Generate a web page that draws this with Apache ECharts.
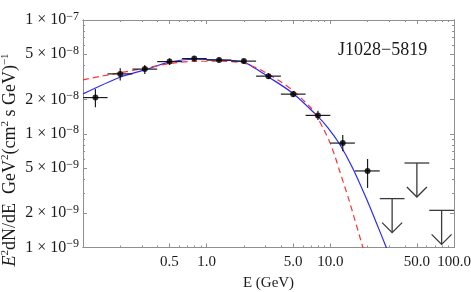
<!DOCTYPE html>
<html>
<head>
<meta charset="utf-8">
<script src="https://cdn.jsdelivr.net/npm/echarts@6/dist/echarts.min.js"></script>
<style>html,body{margin:0;padding:0;background:#fff}#c{width:471px;height:292px}</style>
</head>
<body>
<div id="c"></div>
<script>
// ---------------- data ----------------
const binEdges = [0.1, 0.158, 0.251, 0.398, 0.631, 1.0, 1.58, 2.51, 3.98, 6.31, 10.0, 15.8, 25.1, 39.8, 63.1, 100];
const energy = [0.126, 0.200, 0.316, 0.501, 0.794, 1.26, 2.00, 3.16, 5.01, 7.94, 12.6, 20.0];
const flux   = [2.08e-8, 3.36e-8, 3.70e-8, 4.31e-8, 4.58e-8, 4.44e-8, 4.35e-8, 3.21e-8, 2.23e-8, 1.45e-8, 8.28e-9, 4.71e-9];
const fluxLo = [1.71e-8, 2.94e-8, 3.36e-8, 4.03e-8, 4.35e-8, 4.22e-8, 4.13e-8, 3.03e-8, 2.10e-8, 1.32e-8, 7.0e-9, 3.34e-9];
const fluxHi = [2.47e-8, 3.77e-8, 4.03e-8, 4.60e-8, 4.81e-8, 4.67e-8, 4.57e-8, 3.41e-8, 2.37e-8, 1.59e-8, 9.75e-9, 6.0e-9];
const ulBinIndex = [12, 13, 14];
const ulEnergy = [31.6, 50.1, 79.4];
const ulFlux   = [2.69e-9, 5.53e-9, 2.12e-9];

const blueE = [0.100, 0.199, 0.316, 0.497, 0.790, 1.25, 1.96, 2.48, 3.12, 4.97, 7.76, 9.5, 11.8, 15.1, 19.4, 23.5, 28.4, 29.9];
const blueF = [2.24e-8, 3.14e-8, 3.64e-8, 4.26e-8, 4.52e-8, 4.46e-8, 4.28e-8, 3.75e-8, 3.19e-8, 2.27e-8, 1.45e-8, 1.14e-8, 8.2e-9, 5.03e-9, 2.75e-9, 1.66e-9, 9.94e-10, 8.5e-10];
const redE = [0.100, 0.137, 0.199, 0.316, 0.497, 0.790, 1.25, 1.96, 2.48, 3.12, 3.92, 4.97, 6.17, 6.90, 7.76, 8.70, 9.82, 10.8, 11.8, 14.2, 18.2, 19.2];
const redF = [2.98e-8, 3.19e-8, 3.43e-8, 3.77e-8, 4.13e-8, 4.33e-8, 4.34e-8, 4.20e-8, 3.83e-8, 3.36e-8, 2.89e-8, 2.41e-8, 1.93e-8, 1.71e-8, 1.42e-8, 1.13e-8, 8.59e-9, 6.54e-9, 4.83e-9, 2.58e-9, 1.03e-9, 8.5e-10];

const xMajor = [0.1, 0.5, 1, 5, 10, 50, 100];
const xLabels = [0.5, 1, 5, 10, 50, 100];
const xMinor = [0.2, 0.3, 0.4, 0.6, 0.7, 0.8, 0.9, 2, 3, 4, 6, 7, 8, 9, 20, 30, 40, 60, 70, 80, 90];
const yMajor = [1e-9, 2e-9, 5e-9, 1e-8, 2e-8, 5e-8, 1e-7];
const yMinor = [3e-9, 4e-9, 6e-9, 7e-9, 8e-9, 9e-9, 3e-8, 4e-8, 6e-8, 7e-8, 8e-8, 9e-8];
const titleText = 'J1028\u22125819';
const xName = 'E (GeV)';
const yName = '{i|E}{s|2}{n|dN/dE  GeV}{s|2}{n|(cm}{s|2}{n| s GeV)}{s|\u22121}';

// ---------------- chart ----------------
const L = Math.log10;
const FONT = '"Liberation Serif", "DejaVu Serif", serif';
const frame = '#8f8f8f';
const textCol = '#1a1a1a';

function xFmt(v) {
  let best = xLabels[0];
  xLabels.forEach(t => { if (Math.abs(L(t) - v) < Math.abs(L(best) - v)) best = t; });
  return best.toFixed(1);
}
function yFmt(v) {
  const e = Math.floor(v + 1e-6);
  const m = Math.round(Math.pow(10, v - e));
  return '{b|' + m + ' \u00d7 10}{s|\u2212' + Math.abs(e) + '}';
}

function mkX(pos, ticks, len, labels) {
  return {
    type: 'value', min: -1, max: 2, position: pos,
    axisLine: { show: true, onZero: false, lineStyle: { color: frame, width: 1 } },
    axisTick: { show: true, inside: true, length: len, customValues: ticks.map(L), lineStyle: { color: frame, width: 1 } },
    axisLabel: labels ? { show: true, customValues: xLabels.map(L), formatter: xFmt, margin: 7,
      fontFamily: FONT, fontSize: 15, color: textCol } : { show: false },
    splitLine: { show: false },
    name: labels ? xName : '', nameLocation: 'middle', nameGap: 28,
    nameTextStyle: { fontFamily: FONT, fontSize: 15, color: textCol }
  };
}
function mkY(pos, ticks, len, labels) {
  return {
    type: 'value', min: -9, max: -7, position: pos,
    axisLine: { show: true, onZero: false, lineStyle: { color: frame, width: 1 } },
    axisTick: { show: true, inside: true, length: len, customValues: ticks.map(L), lineStyle: { color: frame, width: 1 } },
    axisLabel: labels ? { show: true, customValues: yMajor.map(L), formatter: yFmt, margin: 4,
      color: textCol,
      rich: {
        b: { fontFamily: FONT, fontSize: 16, color: textCol, lineHeight: 19 },
        s: { fontFamily: FONT, fontSize: 12, color: textCol, verticalAlign: 'top', lineHeight: 12 }
      } } : { show: false },
    splitLine: { show: false }
  };
}

const pts = energy.map((e, i) => [L(e), L(flux[i]), L(binEdges[i]), L(binEdges[i + 1]), L(fluxLo[i]), L(fluxHi[i])]);
const uls = ulEnergy.map((e, i) => [L(e), L(ulFlux[i]), L(binEdges[ulBinIndex[i]]), L(binEdges[ulBinIndex[i] + 1])]);

const chart = echarts.init(document.getElementById('c'), null, { renderer: 'canvas' });
chart.setOption({
  animation: false,
  backgroundColor: '#fff',
  title: { text: titleText, left: 338, top: 41, padding: 0,
    textStyle: { fontFamily: FONT, fontSize: 18, fontWeight: 'normal', color: textCol } },
  graphic: [{
    type: 'text', x: 10, y: 160, rotation: Math.PI / 2,
    style: {
      text: yName, align: 'center', verticalAlign: 'middle',
      rich: {
        i: { fontFamily: FONT, fontSize: 18, fontStyle: 'italic', fill: textCol, lineHeight: 20 },
        n: { fontFamily: FONT, fontSize: 18, fill: textCol, lineHeight: 20 },
        s: { fontFamily: FONT, fontSize: 11, fill: textCol, verticalAlign: 'top', lineHeight: 12 }
      }
    }
  }],
  grid: { left: 83, right: 17, top: 20, bottom: 44.5, containLabel: false, outerBoundsMode: 'none' },
  xAxis: [mkX('bottom', xMajor, 4, true), mkX('bottom', xMinor, 2, false), mkX('top', xMajor, 4, false), mkX('top', xMinor, 2, false)],
  yAxis: [mkY('left', yMajor, 4, true), mkY('left', yMinor, 2, false), mkY('right', yMajor, 4, false), mkY('right', yMinor, 2, false)],
  series: [
    { type: 'line', data: blueE.map((e, i) => [L(e), L(blueF[i])]), smooth: 0.3, showSymbol: false,
      lineStyle: { color: '#2a2aff', width: 1.2 }, clip: true, z: 2 },
    { type: 'line', data: redE.map((e, i) => [L(e), L(redF[i])]), smooth: 0.3, showSymbol: false,
      lineStyle: { color: '#ff3333', width: 1.2, type: [6, 4] }, clip: true, z: 2 },
    { type: 'custom', data: pts, encode: { x: 0, y: 1 }, z: 3,
      renderItem: function (params, api) {
        const y = api.value(1);
        const a = api.coord([api.value(2), y]), b = api.coord([api.value(3), y]);
        const c = api.coord([api.value(0), api.value(4)]), d = api.coord([api.value(0), api.value(5)]);
        const st = { stroke: '#1c1c1c', lineWidth: 1.2 };
        return { type: 'group', children: [
          { type: 'line', shape: { x1: a[0], y1: a[1], x2: b[0], y2: b[1] }, style: st },
          { type: 'line', shape: { x1: c[0], y1: c[1], x2: d[0], y2: d[1] }, style: st }
        ] };
      } },
    { type: 'custom', data: uls, encode: { x: 0, y: 1 }, z: 3,
      renderItem: function (params, api) {
        const y = api.value(1);
        const a = api.coord([api.value(2), y]), b = api.coord([api.value(3), y]);
        const p = api.coord([api.value(0), y]);
        const len = 34, hw = 10, hh = 10;
        const st = { stroke: '#3a3a3a', lineWidth: 1.3, fill: null };
        return { type: 'group', children: [
          { type: 'line', shape: { x1: a[0], y1: a[1], x2: b[0], y2: b[1] }, style: st },
          { type: 'line', shape: { x1: p[0], y1: p[1], x2: p[0], y2: p[1] + len }, style: st },
          { type: 'polyline', shape: { points: [[p[0] - hw, p[1] + len - hh], [p[0], p[1] + len], [p[0] + hw, p[1] + len - hh]] }, style: st }
        ] };
      } },
    { type: 'scatter', data: pts.map(p => [p[0], p[1]]), symbol: 'circle', symbolSize: 6,
      itemStyle: { color: '#000' }, z: 4 }
  ]
});
</script>
</body>
</html>
